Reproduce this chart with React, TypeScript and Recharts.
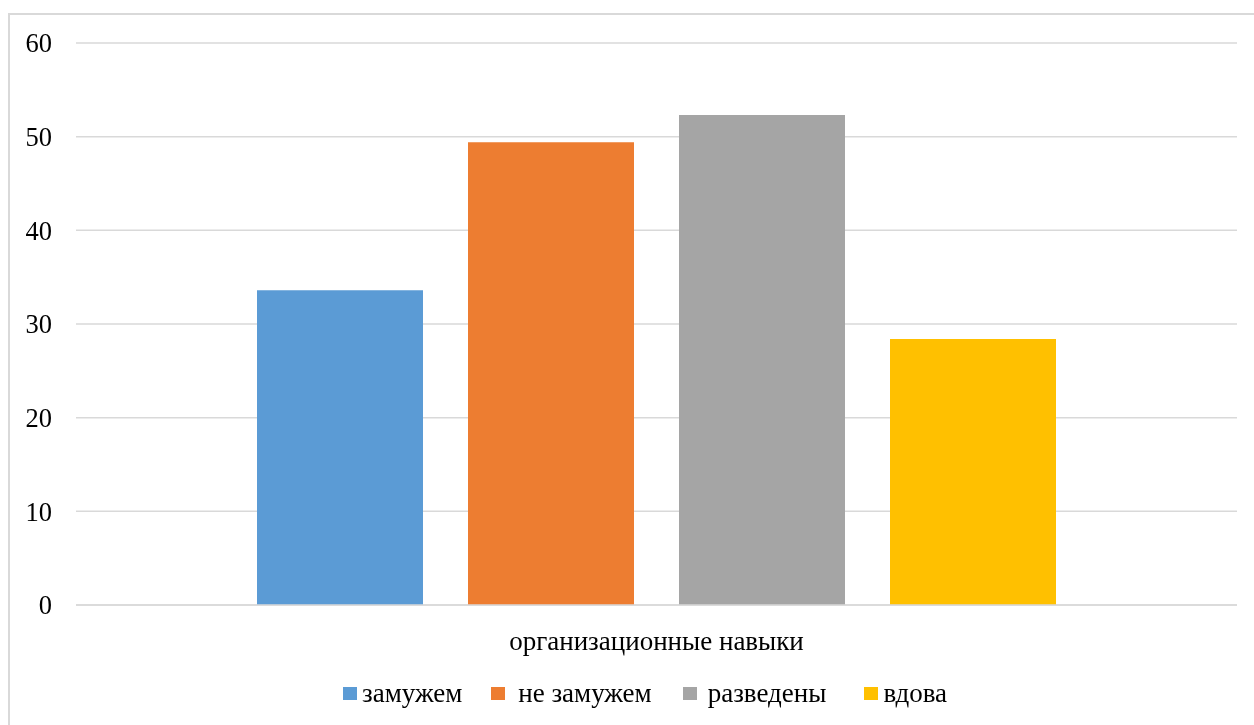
import React from 'react';
import { BarChart, Bar, XAxis, YAxis, CartesianGrid, Legend } from 'recharts';

const categories: string[] = ['организационные навыки'];
const seriesNames: string[] = ['замужем', 'не замужем', 'разведены', 'вдова'];
const seriesKeys: string[] = ['s0', 's1', 's2', 's3'];
const seriesValues: number[][] = [[33.6], [49.4], [52.3], [28.4]];
const seriesColors: string[] = ['#5b9bd5', '#ed7d31', '#a5a5a5', '#ffc000'];
const yTicks: number[] = [0, 10, 20, 30, 40, 50, 60];

const data = categories.map((name, ci) => {
  const row: Record<string, string | number> = { name };
  seriesKeys.forEach((k, si) => {
    row[k] = seriesValues[si][ci];
  });
  return row;
});

const FONT = 'Liberation Serif';

// per-item spacing: [gap before square, gap between square and text]
const legendSpacing: [number, number][] = [
  [0, 5],
  [29, 13],
  [31, 11],
  [38, 5],
];

const renderLegend = () => (
  <div
    style={{
      display: 'flex',
      justifyContent: 'flex-start',
      alignItems: 'center',
      fontFamily: FONT,
      fontSize: 27,
      color: '#000',
      width: 1254,
      paddingLeft: 343,
      boxSizing: 'border-box',
    }}
  >
    {seriesNames.map((n, i) => (
      <div key={n} style={{ display: 'flex', alignItems: 'center', marginLeft: legendSpacing[i][0] }}>
        <div style={{ width: 14, height: 13, background: seriesColors[i], marginRight: legendSpacing[i][1] }} />
        <span style={{ lineHeight: '30px', whiteSpace: 'nowrap' }}>{n}</span>
      </div>
    ))}
  </div>
);

export default function App() {
  return (
    <div style={{ fontFamily: FONT }}>
      <div
        style={{
          position: 'fixed',
          left: 8,
          top: 13,
          width: 1260,
          height: 730,
          borderLeft: '2px solid #d9d9d9',
          borderTop: '2px solid #d9d9d9',
          boxSizing: 'border-box',
        }}
      />
      <div style={{ position: 'fixed', left: 0, top: 0 }}>
        <BarChart
          width={1254}
          height={725}
          data={data}
          margin={{ top: 43, right: 17, bottom: 80, left: 0 }}
          barCategoryGap={181}
          barGap={45}
        >
          <CartesianGrid vertical={false} stroke="#d9d9d9" strokeWidth={1.5} />
          <XAxis
            dataKey="name"
            height={40}
            tickLine={false}
            axisLine={{ stroke: '#d9d9d9', strokeWidth: 1.5 }}
            tickSize={6}
            tickMargin={20}
            tick={{ fill: '#000', fontSize: 27, fontFamily: FONT }}
          />
          <YAxis
            width={76}
            domain={[0, 60]}
            ticks={yTicks}
            interval={0}
            tickLine={false}
            axisLine={false}
            tickSize={6}
            tickMargin={18}
            tick={{ fill: '#000', fontSize: 26.5, fontFamily: FONT }}
          />
          <Legend
            content={renderLegend}
            layout="horizontal"
            verticalAlign="middle"
            align="center"
            wrapperStyle={{ top: 678, left: 0, width: 1254 }}
          />
          {seriesKeys.map((k, i) => (
            <Bar key={k} dataKey={k} name={seriesNames[i]} fill={seriesColors[i]} isAnimationActive={false} />
          ))}
        </BarChart>
      </div>
    </div>
  );
}
